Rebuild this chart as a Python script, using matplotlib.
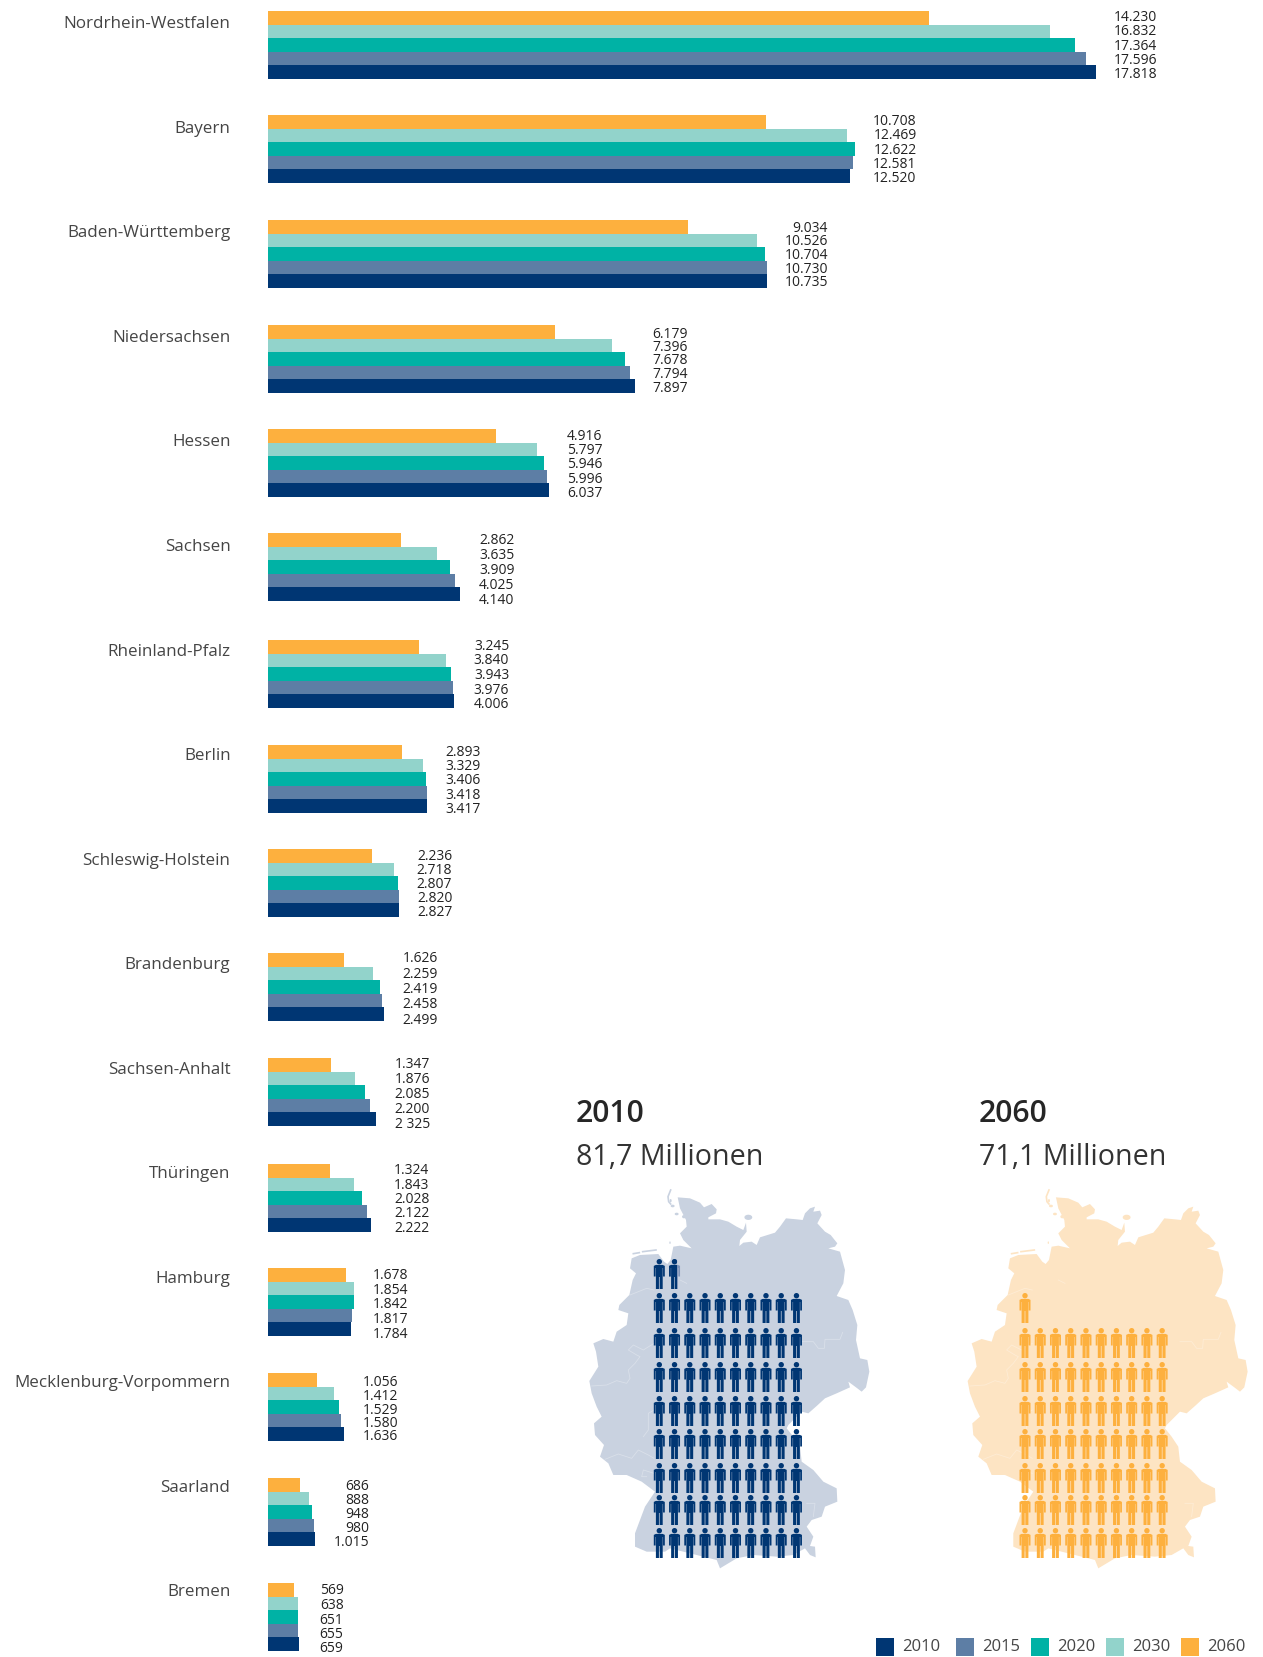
import numpy as np
import matplotlib
matplotlib.use('Agg')
import matplotlib.pyplot as plt
from matplotlib.patches import Polygon, Circle, Rectangle

plt.rcParams['font.family'] = ['Open Sans', 'DejaVu Sans']

W, H = 1263, 1657

states = ['Nordrhein-Westfalen', 'Bayern', 'Baden-Württemberg', 'Niedersachsen', 'Hessen', 'Sachsen',
          'Rheinland-Pfalz', 'Berlin', 'Schleswig-Holstein', 'Brandenburg', 'Sachsen-Anhalt', 'Thüringen',
          'Hamburg', 'Mecklenburg-Vorpommern', 'Saarland', 'Bremen']
years = ['2010', '2015', '2020', '2030', '2060']

v2010 = [17818, 12520, 10735, 7897, 6037, 4140, 4006, 3417, 2827, 2499, 2325, 2222, 1784, 1636, 1015, 659]
v2015 = [17596, 12581, 10730, 7794, 5996, 4025, 3976, 3418, 2820, 2458, 2200, 2122, 1817, 1580, 980, 655]
v2020 = [17364, 12622, 10704, 7678, 5946, 3909, 3943, 3406, 2807, 2419, 2085, 2028, 1842, 1529, 948, 651]
v2030 = [16832, 12469, 10526, 7396, 5797, 3635, 3840, 3329, 2718, 2259, 1876, 1843, 1854, 1412, 888, 638]
v2060 = [14230, 10708, 9034, 6179, 4916, 2862, 3245, 2893, 2236, 1626, 1347, 1324, 1678, 1056, 686, 569]

total_2010 = 81.7
total_2060 = 71.1

colors = ['#003673', '#5d7ea5', '#00b2a5', '#92d3cb', '#fdb03e']
text_col = '#454545'

# layout, reference pixels
group_top = [11, 115, 220, 325, 429, 533, 640, 745, 849, 953, 1058, 1164, 1268, 1373, 1478, 1583]
bar_h = 13.6
label_gap = [61, 62, 61, 53, 54, 54, 55, 54, 53, 54, 54, 58, 54, 54, 54, 45]
label_span = [57, 57, 55, 54, 57, 60, 59, 57, 55, 61, 59, 57, 59, 54, 56, 58]
label_shift = [0, 0, 0.5, 1, 1, 2.5, 0.5, 1, 0.5, 1.5, 1.5, 0.5, 2, 2, 1.5, 2]

# outline of the country (3x crop coordinates)
map_pts = [(293, 52), (330, 55), (360, 68), (372, 82), (395, 72), (410, 88), (408, 100), (385, 112), (385, 118),
           (420, 118), (445, 125), (470, 140), (490, 150), (498, 128), (500, 155), (480, 180), (478, 198), (490, 188),
           (515, 185), (530, 195), (540, 172), (585, 158), (600, 140), (618, 115), (650, 118), (668, 120), (675, 100),
           (690, 85), (705, 80), (700, 95), (720, 92), (725, 105), (712, 130), (735, 155), (752, 165), (772, 190),
           (765, 200), (745, 205), (780, 215), (795, 270), (790, 310), (770, 348), (805, 360), (818, 390), (832, 435),
           (828, 480), (840, 535), (862, 540), (868, 575), (858, 622), (845, 635), (828, 622), (805, 605), (810, 622),
           (770, 640), (735, 655), (710, 678), (685, 700), (665, 695), (640, 720), (625, 735), (620, 745), (640, 770),
           (660, 800), (665, 845), (700, 870), (730, 905), (770, 925), (772, 965), (735, 980), (725, 1010), (695, 1020),
           (680, 1040), (700, 1070), (690, 1098), (705, 1100), (707, 1132), (690, 1125), (675, 1105), (640, 1125),
           (590, 1130), (520, 1125), (470, 1135), (445, 1150), (420, 1165), (410, 1140), (350, 1125), (270, 1105),
           (255, 1115), (200, 1115), (165, 1100), (165, 1060), (195, 980), (225, 935), (185, 905), (140, 885),
           (100, 885), (85, 850), (60, 830), (72, 795), (45, 765), (42, 730), (65, 710), (50, 680), (35, 640),
           (28, 603), (55, 560), (48, 515), (40, 490), (70, 477), (100, 485), (110, 455), (140, 435), (145, 400),
           (115, 390), (118, 375), (148, 345), (158, 300), (168, 280), (150, 265), (155, 235), (180, 225), (235, 222),
           (252, 245), (262, 252), (272, 240), (280, 200), (300, 197), (335, 205), (310, 180), (300, 160), (320, 140),
           (318, 120), (300, 85)]
islands = [(505, 112, 12, 8), (278, 78, 6, 4), (272, 62, 3, 5), (290, 102, 6, 4), (312, 110, 6, 5), (270, 188, 2, 4)]
coast_lines = [([272, 264, 266, 272], [30, 50, 65, 72]), ([160, 178], [221, 218]), ([188, 228], [215, 210])]
borders = [
    ([35, 80, 110, 140, 150, 145, 165, 180, 170, 145, 160, 190, 222],
     [618, 615, 602, 610, 595, 570, 550, 530, 525, 510, 495, 510, 490]),
    ([75, 115, 155, 175, 205, 222], [838, 822, 835, 810, 825, 835]),
    ([222, 205, 205, 190], [690, 700, 750, 770]),
    ([222, 190, 185, 200], [880, 870, 890, 890]),
    ([665, 700, 715, 733, 735, 780, 788], [485, 485, 505, 505, 478, 478, 457]),
    ([680, 705, 700], [970, 970, 1010]),
    ([150, 200, 222], [345, 325, 330]),
    ([300, 320], [300, 310]),
]
row_tops = [1259, 1293, 1328, 1362, 1396, 1429, 1463, 1495, 1528]
person_body = [(-3.4, 5.9), (3.4, 5.9), (5.5, 6.9), (5.5, 17.5), (3.75, 17.5), (3.75, 9), (3.4, 9), (3.4, 30),
               (0.35, 30), (0.35, 18), (-0.35, 18), (-0.35, 30), (-3.4, 30), (-3.4, 9), (-3.75, 9), (-3.75, 17.5),
               (-5.5, 17.5), (-5.5, 6.9)]


def draw_person(ax, cx, top, color, clip_frac=None, z=3):
    parts = [Circle((cx, top + 2.7), 2.7, fc=color, ec='none', zorder=z),
             Polygon([(cx + a, top + b) for a, b in person_body], fc=color, ec='none', zorder=z)]
    for p in parts:
        ax.add_patch(p)
        if clip_frac is not None:
            p.set_clip_path(Rectangle((cx - 5.5, top - 1), 11 * clip_frac, 33, transform=ax.transData))


def to_px(xs, ys, dx):
    return np.array(xs) / 3 + 580 + dx, np.array(ys) / 3 + 1180


def draw_block(ax, total, x0, color, pale, map_col, dx):
    xs, ys = to_px([p[0] for p in map_pts], [p[1] for p in map_pts], dx)
    ax.add_patch(Polygon(np.column_stack([xs, ys]), fc=map_col, ec='none', zorder=1))
    for ix, iy, rw, rh in islands:
        t = np.linspace(0, 2 * np.pi, 14)
        ex, ey = to_px(ix + rw * np.cos(t), iy + rh * np.sin(t), dx)
        ax.add_patch(Polygon(np.column_stack([ex, ey]), fc=map_col, ec='none', zorder=1))
    for lx, ly in coast_lines:
        ex, ey = to_px(lx, ly, dx)
        ax.plot(ex, ey, color=map_col, lw=1.2, zorder=1)
    for bx, by in borders:
        ex, ey = to_px(bx, by, dx)
        ax.plot(ex, ey, color='white', lw=0.6, alpha=0.3, zorder=2)

    full = int(total)
    frac = total - full
    step = 15.24
    for k in range(full):
        row = 8 - k // 10
        draw_person(ax, x0 + step * (k % 10), row_tops[row], color)
    if frac >= 0.5:
        row = 8 - full // 10
        cx = x0 + step * (full % 10)
        draw_person(ax, cx, row_tops[row], pale)
        draw_person(ax, cx, row_tops[row], color, clip_frac=frac, z=4)


fig = plt.figure(figsize=(W / 100, H / 100), dpi=100, facecolor='white')

# pixel overlay for the maps, headings and legend
bg = fig.add_axes([0, 0, 1, 1])
bg.set_xlim(0, W)
bg.set_ylim(H, 0)
bg.axis('off')

draw_block(bg, total_2010, 659.3, colors[0], '#7f94b8', '#c9d2e0', 0)
draw_block(bg, total_2060, 1025, colors[4], '#fdd9a5', '#fde4c3', 378.3)

for x, yr, tot in [(576, '2010', total_2010), (979, '2060', total_2060)]:
    bg.text(x, 1114, yr, fontsize=21.7, fontweight='semibold', color='#262626', va='center', ha='left')
    bg.text(x, 1157.5, '%s Millionen' % str(tot).replace('.', ','), fontsize=20.6, color='#333333',
            va='center', ha='left')

for x, col, yr in zip([876, 956, 1031, 1106, 1181], colors, years):
    bg.add_patch(Rectangle((x, 1638), 18, 18, fc=col, ec='none'))
    bg.text(x + 26, 1647, yr, fontsize=12, color=text_col, va='center', ha='left')

# bars: x in thousand people, y in reference pixels
ax = fig.add_axes([268 / W, 0, (W - 268) / W, 1])
ax.patch.set_alpha(0)
px_per_unit = 828 / 17818
ax.set_xlim(0, (W - 268) / px_per_unit)
ax.set_ylim(H, 0)

top_down = [v2060, v2030, v2020, v2015, v2010]
top_cols = colors[::-1]
tops = np.array(group_top)
for j, (vals, col) in enumerate(zip(top_down, top_cols)):
    ax.barh(tops + (j + 0.5) * bar_h, vals, height=bar_h, color=col, linewidth=0)

for i in range(len(states)):
    mid = group_top[i] + 2.5 * bar_h + 1 + label_shift[i]
    right = max(v2010[i], v2015[i], v2020[i], v2030[i], v2060[i])
    for j, vals in enumerate(top_down):
        y = mid + (j - 2) * label_span[i] / 4
        s = '{:,}'.format(vals[i]).replace(',', '.')
        if s == '2.325':
            s = '2 325'  # as printed in the source
        ax.annotate(s, (right, y), xytext=(label_gap[i] * 0.72, 0), textcoords='offset points',
                    ha='right', va='center', fontsize=10, color='#222222')

ax.set_yticks(22.2 + 104.55 * np.arange(len(states)), states)
ax.tick_params(axis='y', length=0, pad=37.5 * 0.72, labelsize=12.25, labelcolor=text_col)
ax.set_xticks([])
for sp in ax.spines.values():
    sp.set_visible(False)

fig.savefig('out.png', dpi=100)
